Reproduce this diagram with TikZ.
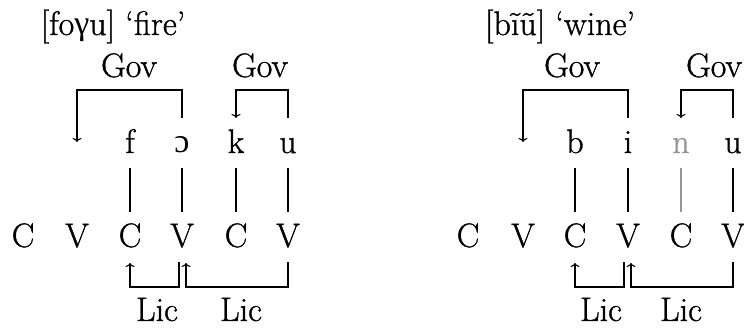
\documentclass[tikz,border=0pt]{standalone}
\usepackage{fontspec}
\setmainfont{Latin Modern Roman}[FakeBold=1]
\newfontfamily\ipa{Liberation Serif}
\usetikzlibrary{arrows.meta}
\begin{document}
\begin{tikzpicture}[x=1pt,y=-1pt,
  font=\fontsize{34}{40}\selectfont,
  lab/.style={anchor=base, inner sep=0pt},
  link/.style={line width=1.1pt},
  arr/.style={line width=1.1pt, -{To[length=4pt,width=9pt]}},
  faint/.style={black!42}]
\useasboundingbox (0,0) rectangle (744,328);
% ---------- left: fire ----------
\node[lab] (ltitle) at (113,35) {[fo{\ipa γ}u] `fire'};
\node[lab] (lgov1) at (129,77) {Gov};
\node[lab] (lgov2) at (260,77) {Gov};
\node[lab] (lf) at (130,153) {f};
\node[lab] (lo) at (182,153) {\ipa ɔ};
\node[lab] (lk) at (236,153) {k};
\node[lab] (lu) at (288,153) {u};
\node[lab] (lc1) at (23,247) {C};
\node[lab] (lc2) at (77,247) {V};
\node[lab] (lc3) at (130,247) {C};
\node[lab] (lc4) at (182,247) {V};
\node[lab] (lc5) at (236,247) {C};
\node[lab] (lc6) at (288,247) {V};
\node[lab] (llic1) at (157,321) {Lic};
\node[lab] (llic2) at (241,321) {Lic};
\coordinate (lg1end) at (77,142);
\coordinate (lg2end) at (236,118);
\foreach \s/\c in {lf/lc3, lo/lc4, lk/lc5, lu/lc6}
  \draw[link] ([yshift=-15pt]\s.base) -- ([yshift=35pt]\c.base);
\draw[arr] ([yshift=35pt]lo.base) -- ([yshift=63pt]lo.base) -| (lg1end);
\draw[arr] ([yshift=35pt]lu.base) -- ([yshift=63pt]lu.base) -| (lg2end);
\draw[arr] ([xshift=-3pt,yshift=-15pt]lc4.base) -- ([xshift=-3pt,yshift=-40pt]lc4.base) -| ([yshift=-16pt]lc3.base);
\draw[arr] ([yshift=-15pt]lc6.base) -- ([yshift=-40pt]lc6.base) -| ([xshift=4pt,yshift=-16pt]lc4.base);
% ---------- right: wine ----------
\node[lab] (rtitle) at (560,35) {[bĩũ] `wine'};
\node[lab] (rgov1) at (572,77) {Gov};
\node[lab] (rgov2) at (714,77) {Gov};
\node[lab] (rb) at (575,153) {b};
\node[lab] (ri) at (628,153) {i};
\node[lab,faint] (rn) at (681,153) {n};
\node[lab] (ru) at (733,153) {u};
\node[lab] (rc1) at (468,247) {C};
\node[lab] (rc2) at (523,247) {V};
\node[lab] (rc3) at (575,247) {C};
\node[lab] (rc4) at (628,247) {V};
\node[lab] (rc5) at (681,247) {C};
\node[lab] (rc6) at (733,247) {V};
\node[lab] (rlic1) at (601,321) {Lic};
\node[lab] (rlic2) at (681,321) {Lic};
\coordinate (rg1end) at (523,142);
\coordinate (rg2end) at (681,118);
\foreach \s/\c in {rb/rc3, ri/rc4, ru/rc6}
  \draw[link] ([yshift=-15pt]\s.base) -- ([yshift=35pt]\c.base);
\draw[link,faint] ([yshift=-15pt]rn.base) -- ([yshift=35pt]rc5.base);
\draw[arr] ([yshift=35pt]ri.base) -- ([yshift=63pt]ri.base) -| (rg1end);
\draw[arr] ([yshift=35pt]ru.base) -- ([yshift=63pt]ru.base) -| (rg2end);
\draw[arr] ([xshift=-4pt,yshift=-15pt]rc4.base) -- ([xshift=-4pt,yshift=-40pt]rc4.base) -| ([yshift=-16pt]rc3.base);
\draw[arr] ([yshift=-15pt]rc6.base) -- ([yshift=-40pt]rc6.base) -| ([xshift=3pt,yshift=-16pt]rc4.base);
\end{tikzpicture}
\end{document}
